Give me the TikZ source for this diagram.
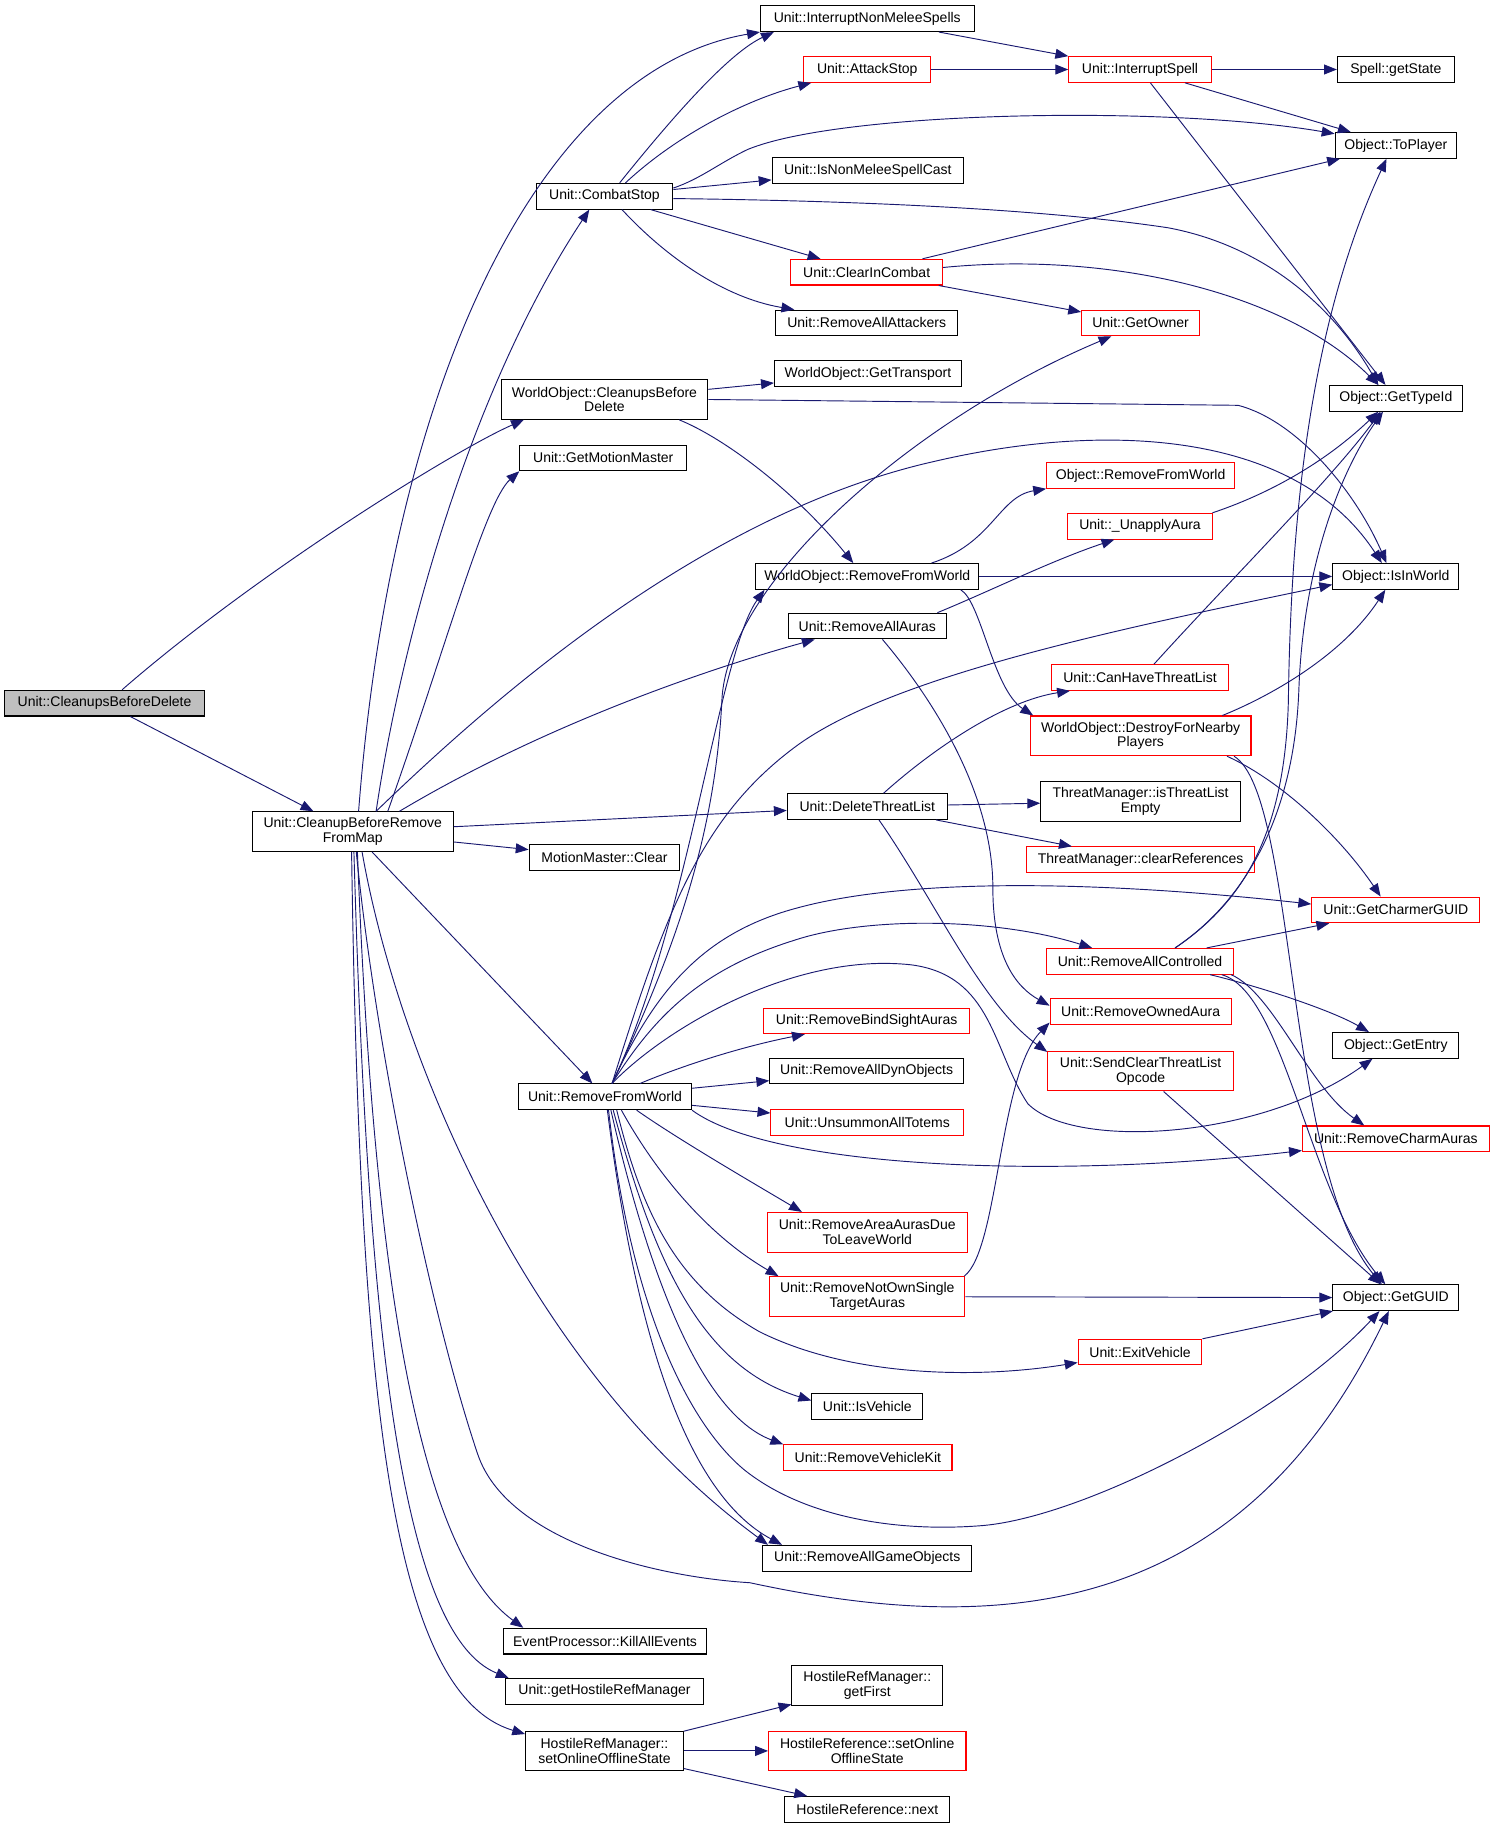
\documentclass[tikz,border=0pt]{standalone}
\usepackage{fontspec}
\setmainfont{Liberation Sans}
\usetikzlibrary{arrows.meta}
\definecolor{edgeblue}{RGB}{25,25,112}
\definecolor{nodegray}{RGB}{191,191,191}
\tikzset{
  fnode/.style={draw=black, line width=0.9pt, inner sep=0pt, minimum height=22pt,
    align=center, font=\fontsize{12}{12.7}\selectfont},
  rnode/.style={fnode, draw=red},
  tall/.style={minimum height=34pt},
  edgeline/.style={draw=edgeblue, line width=0.8pt, -{Triangle[length=11pt,width=8.5pt]}}
}
\begin{document}
\begin{tikzpicture}[x=1pt,y=-1pt]
  \useasboundingbox (0,0) rectangle (1280,1565);
  % rank 0 and 1
  \node[fnode, fill=nodegray, minimum width=171pt] (cbd) at (89.5,602) {Unit::CleanupsBeforeDelete};
  \node[fnode, tall, minimum width=172pt] (cbr) at (302,712) {Unit::CleanupBeforeRemove\\FromMap};
  % rank 2
  \node[fnode, minimum width=117pt] (combatstop) at (517.5,168) {Unit::CombatStop};
  \node[fnode, tall, minimum width=177pt] (wocbd) at (517.5,342) {WorldObject::CleanupsBefore\\Delete};
  \node[fnode, minimum width=143pt] (getmm) at (516.5,392) {Unit::GetMotionMaster};
  \node[fnode, minimum width=129pt] (mmclear) at (517.5,734) {MotionMaster::Clear};
  \node[fnode, minimum width=148pt] (rfw) at (518,939) {Unit::RemoveFromWorld};
  \node[fnode, minimum width=174pt] (killall) at (518,1405) {EventProcessor::KillAllEvents};
  \node[fnode, minimum width=169pt] (gethrm) at (517.5,1448) {Unit::getHostileRefManager};
  \node[fnode, tall, minimum width=135pt] (hrmset) at (517.5,1499) {HostileRefManager::\\setOnlineOfflineState};
  % rank 3
  \node[fnode, minimum width=183pt] (inms) at (742.5,16) {Unit::InterruptNonMeleeSpells};
  \node[rnode, minimum width=109pt] (attackstop) at (742.5,59.5) {Unit::AttackStop};
  \node[fnode, minimum width=164pt] (isnonmelee) at (743,146) {Unit::IsNonMeleeSpellCast};
  \node[rnode, minimum width=130pt] (clearincombat) at (742,233) {Unit::ClearInCombat};
  \node[fnode, minimum width=156pt] (removeattackers) at (742,276.5) {Unit::RemoveAllAttackers};
  \node[fnode, minimum width=160pt] (gettransport) at (743,320) {WorldObject::GetTransport};
  \node[fnode, minimum width=191pt] (worfw) at (742.5,493.5) {WorldObject::RemoveFromWorld};
  \node[fnode, minimum width=135pt] (removeallauras) at (742.5,536) {Unit::RemoveAllAuras};
  \node[fnode, minimum width=137pt] (deletethreat) at (742.5,690.5) {Unit::DeleteThreatList};
  \node[rnode, minimum width=176pt] (bindsight) at (742,874) {Unit::RemoveBindSightAuras};
  \node[fnode, minimum width=166pt] (dynobjects) at (742,917) {Unit::RemoveAllDynObjects};
  \node[rnode, minimum width=165pt] (totems) at (742.5,961) {Unit::UnsummonAllTotems};
  \node[rnode, tall, minimum width=171pt] (areaauras) at (742.5,1055) {Unit::RemoveAreaAurasDue\\ToLeaveWorld};
  \node[rnode, tall, minimum width=167pt] (notownsingle) at (742.5,1110) {Unit::RemoveNotOwnSingle\\TargetAuras};
  \node[fnode, minimum width=95pt] (isvehicle) at (742.5,1204) {Unit::IsVehicle};
  \node[rnode, minimum width=144pt] (vehiclekit) at (743,1248) {Unit::RemoveVehicleKit};
  \node[fnode, minimum width=179pt] (removegameobj) at (742.5,1334) {Unit::RemoveAllGameObjects};
  \node[fnode, tall, minimum width=129pt] (getfirst) at (742.5,1443) {HostileRefManager::\\getFirst};
  \node[rnode, tall, minimum width=169pt] (setonline) at (742.5,1499) {HostileReference::setOnline\\OfflineState};
  \node[fnode, minimum width=141pt] (hrnext) at (742.5,1549) {HostileReference::next};
  % rank 4
  \node[rnode, minimum width=122pt] (interruptspell) at (976,59.5) {Unit::InterruptSpell};
  \node[rnode, minimum width=101pt] (getowner) at (976.5,276.5) {Unit::GetOwner};
  \node[rnode, minimum width=161pt] (objrfw) at (976.5,407) {Object::RemoveFromWorld};
  \node[rnode, minimum width=124pt] (unapply) at (976,450.5) {Unit::\_UnapplyAura};
  \node[rnode, minimum width=152pt] (canhave) at (976,580) {Unit::CanHaveThreatList};
  \node[rnode, tall, minimum width=189pt] (destroy) at (976.5,630) {WorldObject::DestroyForNearby\\Players};
  \node[fnode, tall, minimum width=171pt] (isempty) at (976.5,686) {ThreatManager::isThreatList\\Empty};
  \node[rnode, minimum width=195pt] (clearrefs) at (976.5,736) {ThreatManager::clearReferences};
  \node[rnode, minimum width=160pt] (removectrl) at (976,823) {Unit::RemoveAllControlled};
  \node[rnode, minimum width=155pt] (ownedaura) at (976.5,866) {Unit::RemoveOwnedAura};
  \node[rnode, tall, minimum width=159pt] (sendclear) at (976.5,917) {Unit::SendClearThreatList\\Opcode};
  \node[rnode, minimum width=106pt] (exitvehicle) at (976,1157.5) {Unit::ExitVehicle};
  % rank 5
  \node[fnode, minimum width=100pt] (getstate) at (1195,59.5) {Spell::getState};
  \node[fnode, minimum width=104pt] (toplayer) at (1195,124.5) {Object::ToPlayer};
  \node[fnode, minimum width=114pt] (gettypeid) at (1195,341) {Object::GetTypeId};
  \node[fnode, minimum width=108pt] (isinworld) at (1195,493.5) {Object::IsInWorld};
  \node[rnode, minimum width=144pt] (charmer) at (1195,779) {Unit::GetCharmerGUID};
  \node[fnode, minimum width=108pt] (getentry) at (1195,895) {Object::GetEntry};
  \node[rnode, minimum width=160pt] (charmauras) at (1195,975) {Unit::RemoveCharmAuras};
  \node[fnode, minimum width=108pt] (getguid) at (1195,1111) {Object::GetGUID};
  \begin{scope}[edgeline]
    % from the root
    \draw ([xshift=15pt]cbd.north) .. controls (220,490) and (390,385) .. ([xshift=-69pt]wocbd.south);
    \draw (cbd) -- (cbr);
    % from Unit::CleanupBeforeRemoveFromMap
    \draw ([xshift=5pt]cbr.north) .. controls (335,330) and (460,60) .. (inms.south west);
    \draw ([xshift=20pt]cbr.north) .. controls (345,540) and (405,330) .. ([xshift=-13pt]combatstop.south);
    \draw ([xshift=30pt]cbr.north) .. controls (380,560) and (415,430) .. (getmm.south west);
    \draw ([xshift=20pt]cbr.north) .. controls (420,600) and (600,440) .. (800,395)
      .. controls (950,360) and (1110,370) .. ([xshift=-12pt]isinworld.north);
    \draw ([xshift=40pt]cbr.north) .. controls (450,630) and (580,580) .. ([xshift=-45pt]removeallauras.south);
    \draw (cbr) -- (deletethreat);
    \draw (cbr) -- (mmclear);
    \draw (cbr) -- (rfw);
    \draw ([xshift=8pt]cbr.south) .. controls (340,900) and (450,1170) .. ([xshift=-85pt]removegameobj.north);
    \draw ([xshift=3pt]cbr.south) .. controls (322,900) and (370,1130) .. (409,1245)
      .. controls (434,1319) and (560,1350) .. (642,1355)
      .. controls (850,1400) and (1060,1390) .. ([xshift=-6pt]getguid.south);
    \draw ([xshift=4pt]cbr.south) .. controls (320,1100) and (360,1330) .. ([xshift=-70pt]killall.north);
    \draw ([xshift=1pt]cbr.south) .. controls (315,1150) and (345,1400) .. ([xshift=-82pt]gethrm.north);
    \draw ([xshift=-1pt]cbr.south) .. controls (308,1200) and (335,1450) .. ([yshift=-3pt]hrmset.north west);
    % from Unit::CombatStop
    \draw ([xshift=13pt]combatstop.north) .. controls (580,95) and (625,45) .. ([xshift=-80pt]inms.south);
    \draw ([xshift=18pt]combatstop.north) .. controls (580,115) and (640,85) .. ([xshift=-48pt]attackstop.south);
    \draw ([yshift=7pt]combatstop.east) .. controls (600,153) and (615,140) .. (640,128)
      .. controls (720,95) and (1000,90) .. ([yshift=10pt]toplayer.west);
    \draw (combatstop) -- (isnonmelee);
    \draw ([yshift=-2pt]combatstop.east) .. controls (750,172) and (900,180) .. (1000,195)
      .. controls (1080,210) and (1140,260) .. ([xshift=-15pt]gettypeid.north);
    \draw (combatstop) -- (clearincombat);
    \draw ([xshift=15pt]combatstop.south) .. controls (570,220) and (620,255) .. ([xshift=-62pt]removeattackers.north);
    % middle ranks
    \draw (inms) -- (interruptspell);
    \draw (attackstop) -- (interruptspell);
    \draw (interruptspell) -- (getstate);
    \draw (interruptspell) -- (toplayer);
    \draw (interruptspell) -- (gettypeid);
    \draw (clearincombat) -- (toplayer);
    \draw ([yshift=4pt]clearincombat.east) .. controls (950,215) and (1100,250) .. ([xshift=-15pt]gettypeid.north);
    \draw (clearincombat) -- (getowner);
    \draw (wocbd) -- (gettransport);
    \draw (wocbd.east) -- (1060,347) .. controls (1110,360) and (1160,420) .. ([xshift=-8pt]isinworld.north);
    \draw ([xshift=64pt]wocbd.south) .. controls (620,375) and (680,420) .. ([xshift=-12pt]worfw.north);
    \draw ([xshift=55pt]worfw.north) .. controls (850,465) and (855,425) .. (objrfw.south west);
    \draw (worfw) -- (isinworld);
    \draw ([xshift=80pt]worfw.south) .. controls (840,515) and (850,590) .. ([xshift=-92pt]destroy.north);
    \draw ([xshift=60pt]removeallauras.north) .. controls (850,505) and (900,480) .. ([xshift=-22pt]unapply.south);
    \draw ([xshift=13pt]removeallauras.south) .. controls (800,600) and (850,680) .. (850,760)
      .. controls (850,820) and (870,845) .. ([yshift=5pt]ownedaura.west);
    \draw ([xshift=62pt]unapply.north) .. controls (1080,425) and (1130,400) .. ([xshift=-15pt]gettypeid.south);
    \draw ([xshift=12pt]canhave.north) .. controls (1050,500) and (1140,410) .. ([xshift=-13pt]gettypeid.south);
    \draw ([xshift=70pt]destroy.north) .. controls (1090,595) and (1150,560) .. ([xshift=-9pt]isinworld.south);
    \draw ([xshift=74pt]destroy.south) .. controls (1100,670) and (1150,720) .. ([xshift=-13pt]charmer.north);
    \draw ([xshift=80pt]destroy.south) .. controls (1110,680) and (1100,1000) .. ([xshift=-12pt]getguid.north);
    \draw ([xshift=14pt]deletethreat.north) .. controls (800,640) and (860,600) .. ([xshift=-60pt]canhave.south);
    \draw (deletethreat) -- (isempty);
    \draw (deletethreat) -- (clearrefs);
    \draw ([xshift=10pt]deletethreat.south) .. controls (800,770) and (840,860) .. ([yshift=-1pt]sendclear.north west);
    \draw ([xshift=30pt]removectrl.north) .. controls (1060,775) and (1100,720) .. (1103,600)
      .. controls (1105,450) and (1120,280) .. ([xshift=-8pt]toplayer.south);
    \draw ([xshift=30pt]removectrl.north) .. controls (1065,772) and (1108,700) .. (1112,590)
      .. controls (1116,480) and (1150,400) .. ([xshift=-11pt]gettypeid.south);
    \draw (removectrl) -- (charmer);
    \draw ([xshift=60pt]removectrl.south) .. controls (1080,845) and (1140,865) .. ([xshift=-23pt]getentry.north);
    \draw ([xshift=78pt]removectrl.south) .. controls (1090,850) and (1120,930) .. ([xshift=-27pt]charmauras.north);
    \draw ([xshift=70pt]removectrl.south) .. controls (1100,850) and (1120,1020) .. ([xshift=-9pt]getguid.north);
    \draw (sendclear) -- (getguid);
    \draw ([xshift=83pt]notownsingle.north) .. controls (855,1070) and (855,920) .. ([yshift=2pt]ownedaura.south west);
    \draw (notownsingle) -- (getguid);
    \draw (exitvehicle) -- (getguid);
    \draw (hrmset) -- (getfirst);
    \draw (hrmset) -- (setonline);
    \draw (hrmset) -- (hrnext);
    % from Unit::RemoveFromWorld
    \draw ([xshift=6pt]rfw.north) .. controls (575,820) and (612,720) .. (618,600)
      .. controls (622,500) and (780,360) .. ([xshift=-25pt]getowner.south);
    \draw ([xshift=6pt]rfw.north) .. controls (590,790) and (615,560) .. ([xshift=-88pt]worfw.south);
    \draw ([xshift=6pt]rfw.north) .. controls (570,780) and (600,700) .. (680,640)
      .. controls (760,580) and (950,540) .. ([yshift=-7pt]isinworld.west);
    \draw ([xshift=6pt]rfw.north) .. controls (560,850) and (600,800) .. (680,778)
      .. controls (780,750) and (950,755) .. ([yshift=5pt]charmer.west);
    \draw ([xshift=6pt]rfw.north) .. controls (560,870) and (600,830) .. (680,805)
      .. controls (740,785) and (850,785) .. ([xshift=-41pt]removectrl.north);
    \draw ([xshift=6pt]rfw.north) .. controls (570,880) and (680,815) .. (780,826)
      .. controls (850,835) and (850,900) .. (880,945)
      .. controls (920,985) and (1080,975) .. ([xshift=-20pt]getentry.south);
    \draw ([xshift=30pt]rfw.north) .. controls (590,910) and (640,895) .. ([xshift=-53pt]bindsight.south);
    \draw (rfw) -- (dynobjects);
    \draw (rfw) -- (totems);
    \draw (rfw.south east) .. controls (660,1000) and (900,1010) .. ([yshift=-10pt]charmauras.west);
    \draw ([xshift=27pt]rfw.south) .. controls (580,975) and (640,1010) .. ([xshift=-56pt]areaauras.north);
    \draw ([xshift=14pt]rfw.south) .. controls (565,1010) and (610,1060) .. ([xshift=-76pt]notownsingle.north);
    \draw ([xshift=10pt]rfw.south) .. controls (550,1040) and (580,1100) .. (650,1140)
      .. controls (730,1180) and (840,1180) .. ([yshift=-9pt]exitvehicle.west);
    \draw ([xshift=7pt]rfw.south) .. controls (560,1080) and (600,1170) .. ([yshift=5pt]isvehicle.west);
    \draw ([xshift=5pt]rfw.south) .. controls (555,1090) and (600,1210) .. (vehiclekit.north west);
    \draw ([xshift=3pt]rfw.south) .. controls (540,1120) and (590,1220) .. (638,1259)
      .. controls (690,1300) and (770,1312) .. (842,1306)
      .. controls (930,1298) and (1100,1210) .. ([xshift=-14pt]getguid.south);
    \draw ([xshift=2pt]rfw.south) .. controls (545,1150) and (590,1280) .. ([xshift=-73pt]removegameobj.north);
  \end{scope}
\end{tikzpicture}
\end{document}
